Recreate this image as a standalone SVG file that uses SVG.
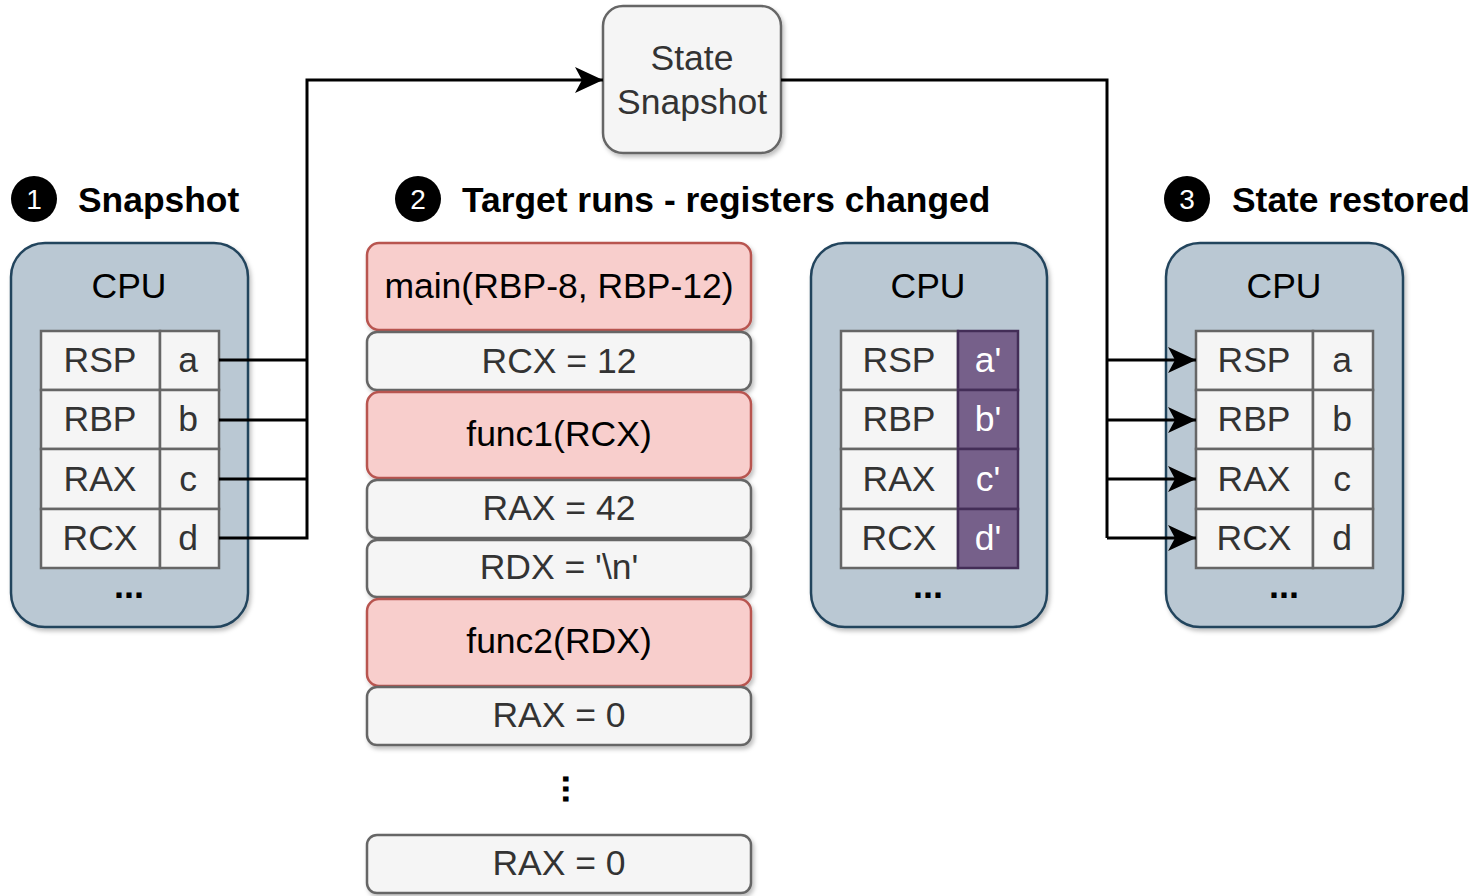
<svg xmlns="http://www.w3.org/2000/svg" width="1479" height="896" viewBox="0 0 1479 896">
  <style>
    text { font-family: "Liberation Sans", Arial, sans-serif; }
    .cpu { fill: #bac8d3; stroke: #23445d; stroke-width: 2.5; }
    .cell { fill: #f5f5f5; stroke: #666666; stroke-width: 2.5; }
    .mod { fill: #76608a; stroke: #432d57; stroke-width: 2.5; }
    .gray { fill: #f5f5f5; stroke: #666666; stroke-width: 2.5; }
    .red { fill: #f8cecc; stroke: #b85450; stroke-width: 2.5; }
    .lbl { font-size: 35.5px; text-anchor: middle; fill: #333333; }
    .blk { font-size: 35.5px; text-anchor: middle; fill: #000000; }
    .wht { font-size: 35.5px; text-anchor: middle; fill: #ffffff; }
    .head { font-size: 35.4px; font-weight: bold; fill: #000000; }
    .num { font-size: 28px; text-anchor: middle; fill: #ffffff; }
    .dots { font-size: 36px; font-weight: bold; text-anchor: middle; fill: #000000; }
    .wire { fill: none; stroke: #000000; stroke-width: 3; }
  </style>
  <defs>
    <filter id="shadow" x="-10%" y="-10%" width="130%" height="130%">
      <feDropShadow dx="2" dy="3" stdDeviation="2" flood-color="#000000" flood-opacity="0.25"/>
    </filter>
    <marker id="arrow" markerUnits="userSpaceOnUse" markerWidth="30" markerHeight="28" refX="28" refY="13" orient="auto">
      <path d="M0,0 L28,13 L0,26 L7,13 Z" fill="#000000"/>
    </marker>
  </defs>

  <!-- Step headings -->
  <g id="heading-1">
    <circle cx="34" cy="199" r="23" fill="#000000"/>
    <text class="num" x="34" y="209">1</text>
    <text class="head" x="78" y="212">Snapshot</text>
  </g>
  <g id="heading-2">
    <circle cx="418" cy="199" r="23" fill="#000000"/>
    <text class="num" x="418" y="209">2</text>
    <text class="head" x="462" y="212">Target runs - registers changed</text>
  </g>
  <g id="heading-3">
    <circle cx="1187" cy="199" r="23" fill="#000000"/>
    <text class="num" x="1187" y="209">3</text>
    <text class="head" x="1232" y="212">State restored</text>
  </g>

  <!-- Snapshot store -->
  <g id="state-snapshot">
    <rect class="gray" x="603" y="6" width="178" height="147" rx="20" filter="url(#shadow)"/>
    <text class="lbl" x="692" y="70">State</text>
    <text class="lbl" x="692" y="114">Snapshot</text>
  </g>

  <!-- CPU before run -->
  <g id="cpu-snapshot">
    <rect class="cpu" x="11" y="243" width="237" height="384" rx="34" filter="url(#shadow)"/>
    <text class="blk" x="129" y="298">CPU</text>
    <rect class="cell" x="41" y="331" width="119" height="59"/>
    <rect class="cell" x="160" y="331" width="59" height="59"/>
    <rect class="cell" x="41" y="390" width="119" height="59"/>
    <rect class="cell" x="160" y="390" width="59" height="59"/>
    <rect class="cell" x="41" y="449" width="119" height="60"/>
    <rect class="cell" x="160" y="449" width="59" height="60"/>
    <rect class="cell" x="41" y="509" width="119" height="59"/>
    <rect class="cell" x="160" y="509" width="59" height="59"/>
    <text class="lbl" x="100" y="372">RSP</text>
    <text class="lbl" x="188" y="372">a</text>
    <text class="lbl" x="100" y="431">RBP</text>
    <text class="lbl" x="188" y="431">b</text>
    <text class="lbl" x="100" y="491">RAX</text>
    <text class="lbl" x="188" y="491">c</text>
    <text class="lbl" x="100" y="550">RCX</text>
    <text class="lbl" x="188" y="550">d</text>
    <text class="dots" x="129" y="598">...</text>
  </g>

  <!-- Instruction trace -->
  <g id="trace">
    <g id="op-main">
      <rect class="red" x="367" y="243" width="384" height="87" rx="12" filter="url(#shadow)"/>
      <text class="blk" x="559" y="298">main(RBP-8, RBP-12)</text>
    </g>
    <g id="op-rcx">
      <rect class="gray" x="367" y="332" width="384" height="58" rx="10" filter="url(#shadow)"/>
      <text class="lbl" x="559" y="373">RCX = 12</text>
    </g>
    <g id="op-func1">
      <rect class="red" x="367" y="392" width="384" height="86" rx="12" filter="url(#shadow)"/>
      <text class="blk" x="559" y="446">func1(RCX)</text>
    </g>
    <g id="op-rax42">
      <rect class="gray" x="367" y="480" width="384" height="58" rx="10" filter="url(#shadow)"/>
      <text class="lbl" x="559" y="520">RAX = 42</text>
    </g>
    <g id="op-rdx">
      <rect class="gray" x="367" y="540" width="384" height="57" rx="10" filter="url(#shadow)"/>
      <text class="lbl" x="559" y="579">RDX = '\n'</text>
    </g>
    <g id="op-func2">
      <rect class="red" x="367" y="599" width="384" height="87" rx="12" filter="url(#shadow)"/>
      <text class="blk" x="559" y="653">func2(RDX)</text>
    </g>
    <g id="op-rax0">
      <rect class="gray" x="367" y="687" width="384" height="58" rx="10" filter="url(#shadow)"/>
      <text class="lbl" x="559" y="727">RAX = 0</text>
    </g>
    <g id="op-more">
      <text class="dots" x="0" y="0" transform="translate(563,789) rotate(90)">...</text>
    </g>
    <g id="op-rax0-last">
      <rect class="gray" x="367" y="835" width="384" height="58" rx="10" filter="url(#shadow)"/>
      <text class="lbl" x="559" y="875">RAX = 0</text>
    </g>
  </g>

  <!-- CPU during run -->
  <g id="cpu-running">
    <rect class="cpu" x="811" y="243" width="236" height="384" rx="34" filter="url(#shadow)"/>
    <text class="blk" x="928" y="298">CPU</text>
    <rect class="cell" x="841" y="331" width="117" height="59"/>
    <rect class="mod" x="958" y="331" width="60" height="59"/>
    <rect class="cell" x="841" y="390" width="117" height="59"/>
    <rect class="mod" x="958" y="390" width="60" height="59"/>
    <rect class="cell" x="841" y="449" width="117" height="60"/>
    <rect class="mod" x="958" y="449" width="60" height="60"/>
    <rect class="cell" x="841" y="509" width="117" height="59"/>
    <rect class="mod" x="958" y="509" width="60" height="59"/>
    <text class="lbl" x="899" y="372">RSP</text>
    <text class="wht" x="988" y="372">a'</text>
    <text class="lbl" x="899" y="431">RBP</text>
    <text class="wht" x="988" y="431">b'</text>
    <text class="lbl" x="899" y="491">RAX</text>
    <text class="wht" x="988" y="491">c'</text>
    <text class="lbl" x="899" y="550">RCX</text>
    <text class="wht" x="988" y="550">d'</text>
    <text class="dots" x="928" y="598">...</text>
  </g>

  <!-- CPU after restore -->
  <g id="cpu-restored">
    <rect class="cpu" x="1166" y="243" width="237" height="384" rx="34" filter="url(#shadow)"/>
    <text class="blk" x="1284" y="298">CPU</text>
    <rect class="cell" x="1196" y="331" width="117" height="59"/>
    <rect class="cell" x="1313" y="331" width="60" height="59"/>
    <rect class="cell" x="1196" y="390" width="117" height="59"/>
    <rect class="cell" x="1313" y="390" width="60" height="59"/>
    <rect class="cell" x="1196" y="449" width="117" height="60"/>
    <rect class="cell" x="1313" y="449" width="60" height="60"/>
    <rect class="cell" x="1196" y="509" width="117" height="59"/>
    <rect class="cell" x="1313" y="509" width="60" height="59"/>
    <text class="lbl" x="1254" y="372">RSP</text>
    <text class="lbl" x="1342" y="372">a</text>
    <text class="lbl" x="1254" y="431">RBP</text>
    <text class="lbl" x="1342" y="431">b</text>
    <text class="lbl" x="1254" y="491">RAX</text>
    <text class="lbl" x="1342" y="491">c</text>
    <text class="lbl" x="1254" y="550">RCX</text>
    <text class="lbl" x="1342" y="550">d</text>
    <text class="dots" x="1284" y="598">...</text>
  </g>

  <!-- Connectors, drawn on top of the CPU panels -->
  <g id="connectors">
    <path class="wire" d="M219,360 H307 M219,420 H307 M219,479 H307"/>
    <path class="wire" d="M219,538 H307 V80 H603" marker-end="url(#arrow)"/>
    <path class="wire" d="M781,80 H1107 V538"/>
    <path class="wire" d="M1107,360 H1196" marker-end="url(#arrow)"/>
    <path class="wire" d="M1107,420 H1196" marker-end="url(#arrow)"/>
    <path class="wire" d="M1107,479 H1196" marker-end="url(#arrow)"/>
    <path class="wire" d="M1107,538 H1196" marker-end="url(#arrow)"/>
  </g>
</svg>
